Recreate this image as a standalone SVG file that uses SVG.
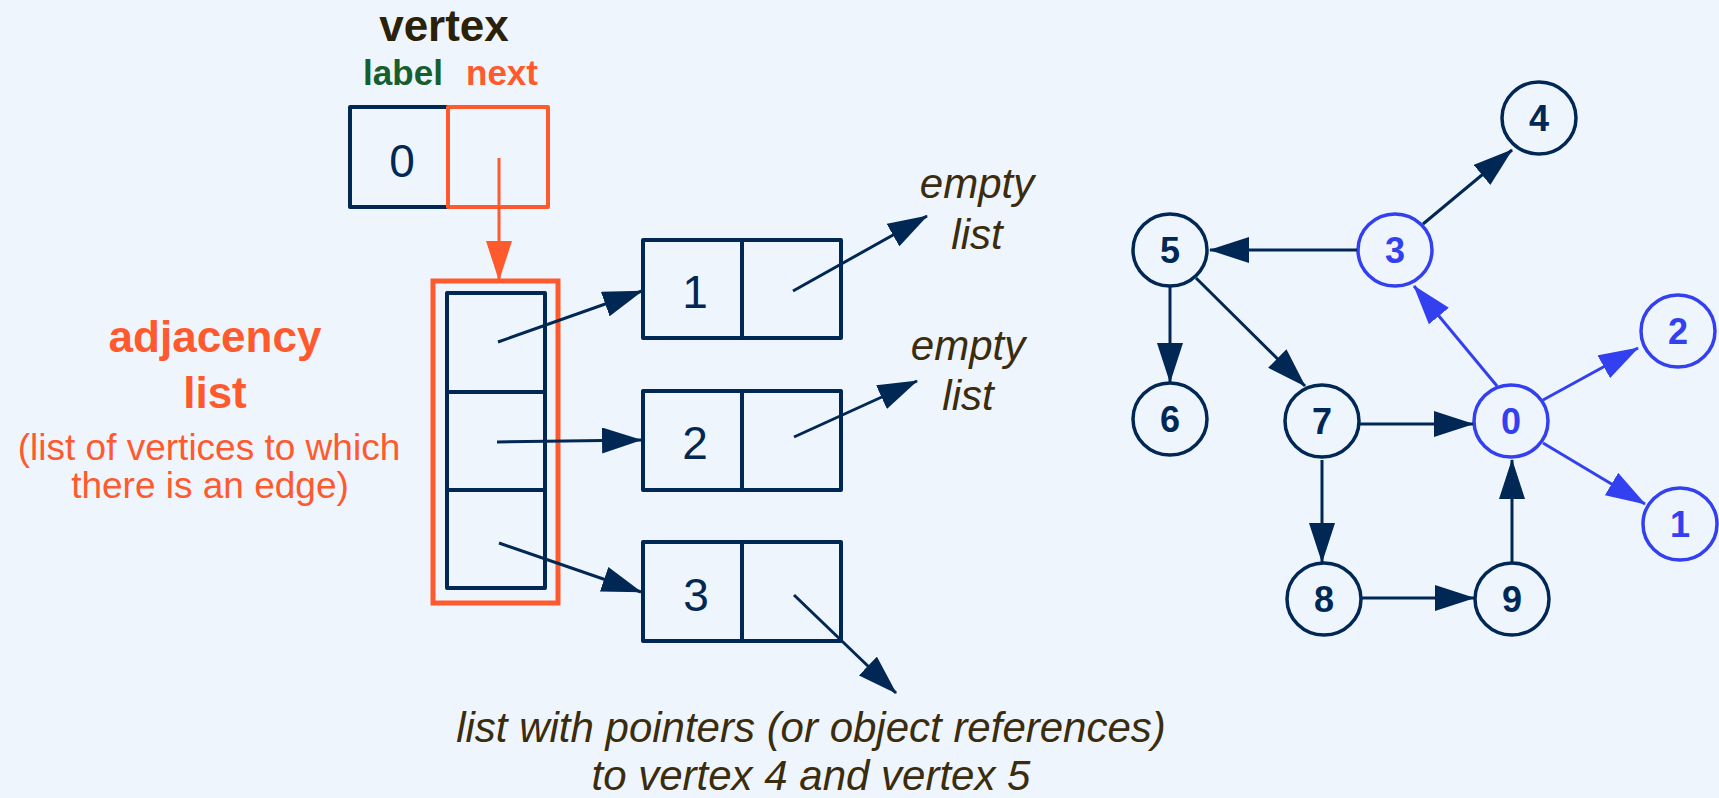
<svg xmlns="http://www.w3.org/2000/svg" width="1719" height="798" viewBox="0 0 1719 798">
<defs>
<marker id="ah-navy" markerUnits="userSpaceOnUse" markerWidth="40" markerHeight="26" refX="39" refY="13" orient="auto"><path d="M0,0 L40,13 L0,26 z" fill="#012855"/></marker>
<marker id="ah-blue" markerUnits="userSpaceOnUse" markerWidth="40" markerHeight="26" refX="39" refY="13" orient="auto"><path d="M0,0 L40,13 L0,26 z" fill="#3340f0"/></marker>
<marker id="ah-orange" markerUnits="userSpaceOnUse" markerWidth="40" markerHeight="26" refX="39" refY="13" orient="auto"><path d="M0,0 L40,13 L0,26 z" fill="#ff5a2e"/></marker>
</defs>
<style>
.box{fill:none;stroke:#012855;stroke-width:4;stroke-linejoin:round}
.obox{fill:none;stroke:#ff5a2e;stroke-width:4;stroke-linejoin:round}
.cell{font-family:"Liberation Sans",Arial,sans-serif;font-size:46px;fill:#012855;text-anchor:middle}
.note{font-family:"Liberation Sans",Arial,sans-serif;font-size:42px;font-style:italic;fill:#3a2c0c;text-anchor:middle}
.c-navy{fill:none;stroke:#012855;stroke-width:3.5}
.c-blue{fill:none;stroke:#3340f0;stroke-width:3.5}
.nl-navy{font-family:"Liberation Sans",Arial,sans-serif;font-size:36px;font-weight:bold;fill:#012855;text-anchor:middle}
.nl-blue{font-family:"Liberation Sans",Arial,sans-serif;font-size:36px;font-weight:bold;fill:#3340f0;text-anchor:middle}
.e-navy{stroke:#012855;stroke-width:3;fill:none;marker-end:url(#ah-navy)}
.e-blue{stroke:#3340f0;stroke-width:3;fill:none;marker-end:url(#ah-blue)}
.e-orange{stroke:#ff5a2e;stroke-width:3;fill:none;marker-end:url(#ah-orange)}
</style>
<rect width="1719" height="798" fill="#eff5fd"/>

<g id="vertex-record">
<text x="444" y="41" font-family="'Liberation Sans',Arial,sans-serif" font-size="44" font-weight="bold" fill="#2b2108" text-anchor="middle">vertex</text>
<text x="403" y="85" font-family="'Liberation Sans',Arial,sans-serif" font-size="35" font-weight="bold" fill="#175e2e" text-anchor="middle">label</text>
<text x="502" y="85" font-family="'Liberation Sans',Arial,sans-serif" font-size="35" font-weight="bold" fill="#ff5a2e" text-anchor="middle">next</text>
<rect class="box" x="350" y="107" width="98" height="100"/>
<rect class="obox" x="448" y="107" width="100" height="100"/>
<text class="cell" x="402" y="177">0</text>
</g>

<g id="adjacency-list">
<rect x="433" y="281" width="125" height="322" fill="none" stroke="#ff5a2e" stroke-width="5"/>
<rect class="box" x="447" y="293" width="98" height="295"/>
<line x1="447" y1="392" x2="545" y2="392" stroke="#012855" stroke-width="4"/>
<line x1="447" y1="490" x2="545" y2="490" stroke="#012855" stroke-width="4"/>
<text x="215" y="352" font-family="'Liberation Sans',Arial,sans-serif" font-size="44" font-weight="bold" fill="#ff5a2e" text-anchor="middle">adjacency</text>
<text x="215" y="408" font-family="'Liberation Sans',Arial,sans-serif" font-size="44" font-weight="bold" fill="#ff5a2e" text-anchor="middle">list</text>
<text x="209" y="460" font-family="'Liberation Sans',Arial,sans-serif" font-size="37" fill="#ff5a2e" text-anchor="middle">(list of vertices to which</text>
<text x="210" y="498" font-family="'Liberation Sans',Arial,sans-serif" font-size="37" fill="#ff5a2e" text-anchor="middle">there is an edge)</text>
</g>

<g id="list-node-1">
<rect class="box" x="643" y="240" width="198" height="98"/>
<line x1="742" y1="240" x2="742" y2="338" stroke="#012855" stroke-width="4"/>
<text class="cell" x="695" y="308">1</text>
</g>
<g id="list-node-2">
<rect class="box" x="643" y="391" width="198" height="99"/>
<line x1="742" y1="391" x2="742" y2="490" stroke="#012855" stroke-width="4"/>
<text class="cell" x="695" y="459">2</text>
</g>
<g id="list-node-3">
<rect class="box" x="643" y="542" width="198" height="99"/>
<line x1="742" y1="542" x2="742" y2="641" stroke="#012855" stroke-width="4"/>
<text class="cell" x="696" y="611">3</text>
</g>

<g id="notes">
<text class="note" x="977" y="198">empty</text>
<text class="note" x="977" y="249">list</text>
<text class="note" x="968" y="360">empty</text>
<text class="note" x="968" y="410">list</text>
<text class="note" x="811" y="742">list with pointers (or object references)</text>
<text class="note" x="811" y="790">to vertex 4 and vertex 5</text>
</g>

<g id="graph-nodes">
<g id="node-4"><ellipse class="c-navy" cx="1539" cy="118" rx="37" ry="36"/><text class="nl-navy" x="1539" y="131">4</text></g>
<g id="node-5"><ellipse class="c-navy" cx="1170" cy="250" rx="37" ry="36"/><text class="nl-navy" x="1170" y="263">5</text></g>
<g id="node-3"><ellipse class="c-blue" cx="1395" cy="250" rx="37" ry="36"/><text class="nl-blue" x="1395" y="263">3</text></g>
<g id="node-2"><ellipse class="c-blue" cx="1678" cy="331" rx="37" ry="36"/><text class="nl-blue" x="1678" y="344">2</text></g>
<g id="node-6"><ellipse class="c-navy" cx="1170" cy="419" rx="37" ry="36"/><text class="nl-navy" x="1170" y="432">6</text></g>
<g id="node-7"><ellipse class="c-navy" cx="1322" cy="421" rx="37" ry="36"/><text class="nl-navy" x="1322" y="434">7</text></g>
<g id="node-0"><ellipse class="c-blue" cx="1511" cy="421" rx="37" ry="36"/><text class="nl-blue" x="1511" y="434">0</text></g>
<g id="node-1"><ellipse class="c-blue" cx="1680" cy="524" rx="37" ry="36"/><text class="nl-blue" x="1680" y="537">1</text></g>
<g id="node-8"><ellipse class="c-navy" cx="1324" cy="599" rx="37" ry="36"/><text class="nl-navy" x="1324" y="612">8</text></g>
<g id="node-9"><ellipse class="c-navy" cx="1512" cy="599" rx="37" ry="36"/><text class="nl-navy" x="1512" y="612">9</text></g>
</g>

<g id="connectors">
<line class="e-orange" x1="499" y1="158" x2="499" y2="280"/>
<line class="e-navy" x1="498" y1="342" x2="642" y2="291"/>
<line class="e-navy" x1="497" y1="442" x2="641" y2="440"/>
<line class="e-navy" x1="499" y1="543" x2="641" y2="592"/>
<line class="e-navy" x1="793" y1="291" x2="927" y2="216"/>
<line class="e-navy" x1="794" y1="437" x2="917" y2="381"/>
<line class="e-navy" x1="794" y1="595" x2="896" y2="693"/>
<line class="e-navy" x1="1357" y1="250" x2="1210" y2="250"/>
<line class="e-navy" x1="1423" y1="224" x2="1512" y2="150"/>
<line class="e-navy" x1="1170" y1="286" x2="1170" y2="382"/>
<line class="e-navy" x1="1196" y1="278" x2="1305" y2="386"/>
<line class="e-navy" x1="1359" y1="424" x2="1473" y2="424"/>
<line class="e-navy" x1="1322" y1="460" x2="1322" y2="562"/>
<line class="e-navy" x1="1361" y1="598" x2="1474" y2="598"/>
<line class="e-navy" x1="1512" y1="562" x2="1512" y2="460"/>
<line class="e-blue" x1="1497" y1="386" x2="1414" y2="286"/>
<line class="e-blue" x1="1543" y1="400" x2="1638" y2="348"/>
<line class="e-blue" x1="1543" y1="443" x2="1645" y2="504"/>
</g>
</svg>
